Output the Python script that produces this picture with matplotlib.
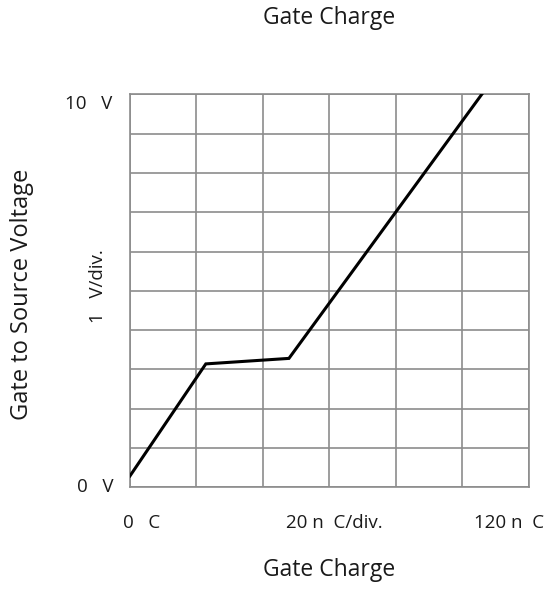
import matplotlib.pyplot as plt

plt.rcParams['font.family'] = ['Open Sans', 'DejaVu Sans']

# gate charge curve (nC, V)
charge = [0, 22.8, 47.8, 105.8]
voltage = [0.29, 3.14, 3.28, 10.0]

x_ticks = [0, 20, 40, 60, 80, 100, 120]
y_ticks = list(range(0, 11))

fig = plt.figure(figsize=(5.46, 5.89), dpi=100)
ax = fig.add_axes([130 / 546, 1 - 487.3 / 589, 399 / 546, 393 / 589])

ax.plot(charge, voltage, color='black', linewidth=2.2, solid_joinstyle='miter', zorder=3)

ax.set_xlim(0, 120)
ax.set_ylim(0, 10)
ax.set_xticks(x_ticks)
ax.set_yticks(y_ticks)
ax.grid(True, color='#8c8c8c', linewidth=1.2)
ax.tick_params(length=0, labelbottom=False, labelleft=False)
for s in ax.spines.values():
    s.set_color('#8c8c8c')
    s.set_linewidth(1.2)

tc = '#1a1a1a'
fig.text(329 / 546, 1 - 18 / 589, 'Gate Charge', ha='center', va='center', fontsize=16.5, color=tc)
fig.text(329 / 546, 1 - 570 / 589, 'Gate Charge', ha='center', va='center', fontsize=16.5, color=tc)
fig.text(22 / 546, 1 - 294 / 589, 'Gate to Source Voltage', ha='center', va='center',
         rotation=90, fontsize=17, color=tc)
fig.text(98 / 546, 1 - 286 / 589, '1   V/div.', ha='center', va='center',
         rotation=90, fontsize=13.5, color=tc)
fig.text(65 / 546, 1 - 104 / 589, '10   V', ha='left', va='center', fontsize=13.5, color=tc)
fig.text(77 / 546, 1 - 487 / 589, '0   V', ha='left', va='center', fontsize=13.5, color=tc)
fig.text(123 / 546, 1 - 523 / 589, '0   C', ha='left', va='center', fontsize=13.5, color=tc)
fig.text(334 / 546, 1 - 523 / 589, '20 n  C/div.', ha='center', va='center', fontsize=13.5, color=tc)
fig.text(544 / 546, 1 - 523 / 589, '120 n  C', ha='right', va='center', fontsize=13.5, color=tc)

fig.savefig('out.png', dpi=100)
